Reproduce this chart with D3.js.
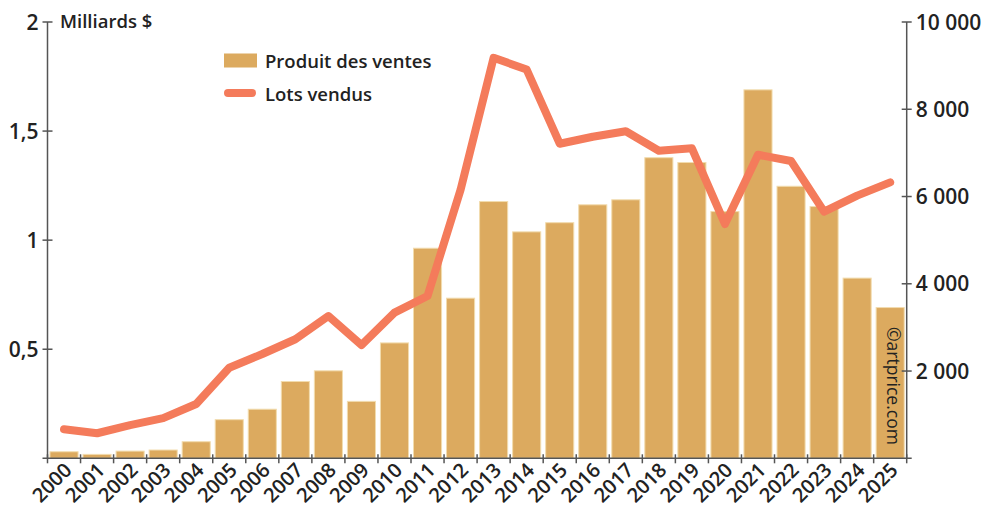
<!DOCTYPE html>
<html>
<head>
<meta charset="utf-8">
<script src="https://cdn.jsdelivr.net/npm/d3@7"></script>
<style>
  html, body { margin: 0; padding: 0; background: #fff; }
  svg { display: block; font-family: "Open Sans", "Noto Sans", sans-serif; }
</style>
</head>
<body>
<svg id="chart" width="989" height="508"></svg>
<script>
const years = ["2000","2001","2002","2003","2004","2005","2006","2007","2008","2009","2010","2011","2012","2013","2014","2015","2016","2017","2018","2019","2020","2021","2022","2023","2024","2025"];
const salesBillions = [0.030,0.018,0.033,0.038,0.076,0.177,0.225,0.352,0.401,0.261,0.529,0.963,0.734,1.177,1.038,1.080,1.162,1.185,1.378,1.356,1.131,1.689,1.247,1.154,0.826,0.691];
const lotsSold = [666,574,760,920,1245,2075,2390,2728,3260,2595,3340,3720,6154,9180,8910,7210,7370,7495,7050,7105,5370,6958,6815,5655,6020,6325];
const leftTicks = [0.5, 1, 1.5, 2];
const leftTickLabels = ["0,5", "1", "1,5", "2"];
const rightTicks = [2000, 4000, 6000, 8000, 10000];
const rightTickLabels = ["2 000", "4 000", "6 000", "8 000", "10 000"];
const legendLabels = ["Produit des ventes", "Lots vendus"];
const unitLabel = "Milliards $";
const watermark = "©artprice.com";

(function () {
const barColor = "#dcaa5f";
const barStroke = "#f2dcae";
const lineColor = "#f47b5b";
const axisColor = "#555";
const textColor = "#222";

const svg = d3.select("#chart");
const pLeft = 47.5, pRight = 906.7, pTop = 22, pBottom = 458.3;

const x = d3.scaleBand().domain(years).range([pLeft, pRight]).paddingInner(0.15).paddingOuter(0.075);
const yL = d3.scaleLinear().domain([0, 2]).range([pBottom, pTop]);
const yR = d3.scaleLinear().domain([0, 10000]).range([pBottom, pTop]);
const step = x.step();

// bars
svg.append("g").selectAll("rect").data(years).join("rect")
  .attr("x", d => x(d))
  .attr("width", x.bandwidth())
  .attr("y", (d, i) => yL(salesBillions[i]))
  .attr("height", (d, i) => yL(0) - yL(salesBillions[i]))
  .attr("fill", barColor)
  .attr("stroke", barStroke)
  .attr("stroke-width", 1);

// line
const line = d3.line()
  .x((d, i) => x(years[i]) + x.bandwidth() / 2)
  .y(d => yR(d));
svg.append("path").datum(lotsSold)
  .attr("d", line)
  .attr("fill", "none")
  .attr("stroke", lineColor)
  .attr("stroke-width", 8)
  .attr("stroke-linecap", "round")
  .attr("stroke-linejoin", "round");

// left axis
const gL = svg.append("g");
gL.append("line").attr("x1", pLeft).attr("x2", pLeft).attr("y1", pTop).attr("y2", pBottom)
  .attr("stroke", axisColor).attr("stroke-width", 1.5);
gL.selectAll(".t").data(leftTicks).join("line")
  .attr("x1", pLeft - 5).attr("x2", pLeft + 5)
  .attr("y1", d => yL(d)).attr("y2", d => yL(d))
  .attr("stroke", axisColor).attr("stroke-width", 1.5);
gL.selectAll("text").data(leftTicks).join("text")
  .attr("x", pLeft - 9).attr("y", d => yL(d))
  .attr("dy", "0.36em")
  .attr("text-anchor", "end")
  .attr("font-size", 21).attr("font-weight", 600)
  .attr("fill", textColor)
  .text((d, i) => leftTickLabels[i]);

// right axis
const gR = svg.append("g");
gR.append("line").attr("x1", pRight).attr("x2", pRight).attr("y1", pTop).attr("y2", pBottom)
  .attr("stroke", axisColor).attr("stroke-width", 1.5);
gR.selectAll(".t").data(rightTicks).join("line")
  .attr("x1", pRight - 5).attr("x2", pRight + 5)
  .attr("y1", d => yR(d)).attr("y2", d => yR(d))
  .attr("stroke", axisColor).attr("stroke-width", 1.5);
gR.selectAll("text").data(rightTicks).join("text")
  .attr("x", pRight + 9).attr("y", d => yR(d))
  .attr("dy", "0.36em")
  .attr("text-anchor", "start")
  .attr("font-size", 21).attr("font-weight", 600)
  .attr("fill", textColor)
  .text((d, i) => rightTickLabels[i]);

// x axis
const gX = svg.append("g");
gX.append("line").attr("x1", pLeft - 5).attr("x2", pRight + 5).attr("y1", pBottom).attr("y2", pBottom)
  .attr("stroke", axisColor).attr("stroke-width", 1.5);
const boundaries = years.map(d => x(d) - step * x.paddingInner() / 2).concat([pRight]);
gX.selectAll(".t").data(boundaries).join("line")
  .attr("x1", d => d).attr("x2", d => d)
  .attr("y1", pBottom - 4).attr("y2", pBottom + 5)
  .attr("stroke", axisColor).attr("stroke-width", 1.5);
gX.selectAll("text").data(years).join("text")
  .attr("transform", d => `translate(${x(d) + x.bandwidth() / 2 + 9},${pBottom + 13}) rotate(-45)`)
  .attr("text-anchor", "end")
  .attr("font-size", 20).attr("font-weight", 600)
  .attr("fill", textColor)
  .text(d => d);

// unit label
svg.append("text").attr("x", 60).attr("y", 27.5)
  .attr("font-size", 18.5).attr("font-weight", 600).attr("fill", textColor)
  .text(unitLabel);

// legend
const lg = svg.append("g");
lg.append("rect").attr("x", 224).attr("y", 53.5).attr("width", 33).attr("height", 14).attr("fill", barColor);
lg.append("line").attr("x1", 228).attr("x2", 252).attr("y1", 93).attr("y2", 93)
  .attr("stroke", lineColor).attr("stroke-width", 8).attr("stroke-linecap", "round");
lg.selectAll("text").data(legendLabels).join("text")
  .attr("x", 265).attr("y", (d, i) => 68 + i * 33)
  .attr("font-size", 18.5).attr("font-weight", 600).attr("fill", textColor)
  .text(d => d);

// watermark
svg.append("text")
  .attr("transform", `translate(887,327) rotate(90)`)
  .attr("font-size", 17.5).attr("fill", textColor)
  .text(watermark);
})();
</script>
</body>
</html>
